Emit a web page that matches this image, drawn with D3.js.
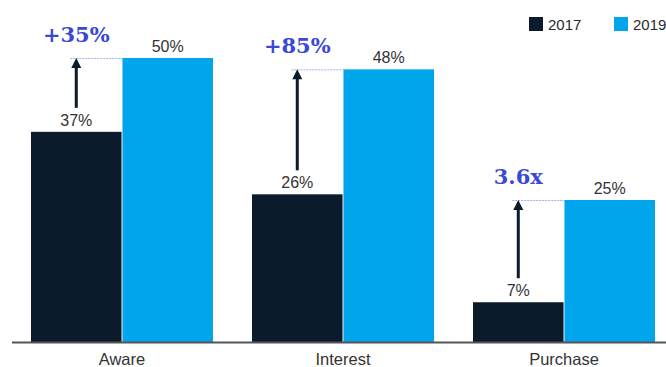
<!DOCTYPE html>
<html>
<head>
<meta charset="utf-8">
<script src="https://cdn.jsdelivr.net/npm/d3@7"></script>
<style>
  html, body { margin: 0; padding: 0; background: #fff; }
  svg { display: block; }
</style>
</head>
<body>
<svg id="chart" width="666" height="367"></svg>
<script>
// Funnel stages and the share of respondents at each stage, per survey year
const categories = ["Aware", "Interest", "Purchase"];
const years = ["2017", "2019"];
const values2017 = [37, 26, 7];
const values2019 = [50, 48, 25];
const growthLabels = ["+35%", "+85%", "3.6x"];

const colors = { "2017": "#0b1b2b", "2019": "#00a5ec" };

const svg = d3.select("#chart");
const W = 666, H = 367;
const baseline = 342;
const sans = "'Liberation Sans', Arial, Helvetica, sans-serif";

const x = d3.scaleBand()
  .domain(categories)
  .range([31, 655])
  .paddingInner(0.1765)
  .paddingOuter(0);

const xSub = d3.scaleBand()
  .domain(years)
  .range([0, x.bandwidth()])
  .paddingInner(0.01);

const y = d3.scaleLinear()
  .domain([0, 50])
  .range([baseline, 58]);

const rows = categories.map((c, i) => ({
  cat: c,
  v17: values2017[i],
  v19: values2019[i],
  growth: growthLabels[i]
}));

// Bars
const groups = svg.append("g").selectAll("g")
  .data(rows)
  .join("g")
  .attr("transform", d => `translate(${x(d.cat)},0)`);

groups.selectAll("rect")
  .data(d => [{ year: "2017", v: d.v17 }, { year: "2019", v: d.v19 }])
  .join("rect")
  .attr("x", d => xSub(d.year))
  .attr("width", xSub.bandwidth())
  .attr("y", d => y(d.v))
  .attr("height", d => baseline - y(d.v))
  .attr("fill", d => colors[d.year]);

// Value labels above each bar
groups.selectAll("text.val")
  .data(d => [{ year: "2017", v: d.v17 }, { year: "2019", v: d.v19 }])
  .join("text")
  .attr("class", "val")
  .attr("x", d => xSub(d.year) + xSub.bandwidth() / 2)
  .attr("y", d => y(d.v) - 6)
  .attr("text-anchor", "middle")
  .attr("font-family", sans)
  .attr("font-size", 16)
  .attr("fill", "#333")
  .text(d => d.v + "%");

// Growth annotations: arrow from the 2017 label up to the 2019 level
groups.each(function(d) {
  const g = d3.select(this);
  const cx = xSub("2017") + xSub.bandwidth() / 2;
  const top = y(d.v19);
  const bottom = y(d.v17) - 24;

  g.append("line")
    .attr("x1", cx - 6)
    .attr("x2", xSub("2019"))
    .attr("y1", top + 0.5)
    .attr("y2", top + 0.5)
    .attr("stroke", "#9fb0ee")
    .attr("stroke-width", 1)
    .attr("stroke-dasharray", "2,1");

  g.append("line")
    .attr("x1", cx)
    .attr("x2", cx)
    .attr("y1", bottom)
    .attr("y2", top + 8)
    .attr("stroke", colors["2017"])
    .attr("stroke-width", 3);

  g.append("path")
    .attr("d", `M${cx},${top} L${cx - 5},${top + 10} L${cx + 5},${top + 10} Z`)
    .attr("fill", colors["2017"]);

  g.append("text")
    .attr("x", cx)
    .attr("y", top - 16)
    .attr("text-anchor", "middle")
    .attr("font-family", "'DejaVu Serif', 'Liberation Serif', Georgia, serif")
    .attr("font-weight", "bold")
    .attr("font-size", 21)
    .attr("fill", "#3b48d6")
    .text(d.growth);
});

// Category axis
const xAxis = svg.append("g")
  .attr("transform", `translate(0,${baseline})`);

xAxis.append("line")
  .attr("x1", 12)
  .attr("x2", W)
  .attr("y1", 0.5)
  .attr("y2", 0.5)
  .attr("stroke", "#555")
  .attr("stroke-width", 2);

xAxis.selectAll("text")
  .data(categories)
  .join("text")
  .attr("x", d => x(d) + x.bandwidth() / 2)
  .attr("y", 23)
  .attr("text-anchor", "middle")
  .attr("font-family", sans)
  .attr("font-size", 16.5)
  .attr("fill", "#333")
  .text(d => d);

// Legend
const legend = svg.append("g").selectAll("g")
  .data(years)
  .join("g")
  .attr("transform", (d, i) => `translate(${529 + i * 85},17)`);

legend.append("rect")
  .attr("width", 14)
  .attr("height", 14)
  .attr("fill", d => colors[d]);

legend.append("text")
  .attr("x", 19)
  .attr("y", 12.5)
  .attr("font-family", sans)
  .attr("font-size", 15)
  .attr("fill", "#2a2a2a")
  .text(d => d);
</script>
</body>
</html>
